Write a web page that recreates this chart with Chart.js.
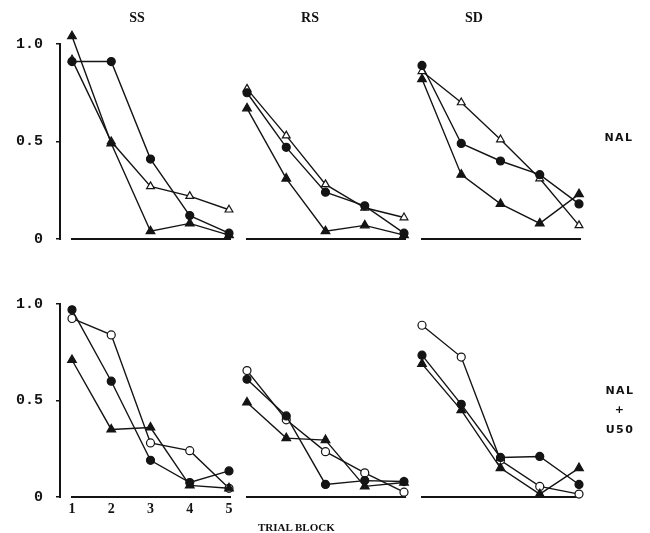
<!DOCTYPE html>
<html><head><meta charset="utf-8">
<script src="https://cdn.jsdelivr.net/npm/chart.js@4.4.0/dist/chart.umd.min.js"></script>
<style>
html,body{margin:0;padding:0;background:#fff;width:650px;height:533px;overflow:hidden}
#wrap{position:relative;width:650px;height:533px}
canvas{position:absolute;left:0;top:0}
.t{position:absolute;color:#111;white-space:nowrap;transform:translate(-50%,-50%);line-height:1}
.title{font-family:"Liberation Serif";font-weight:bold;font-size:14px}
.side{font-family:"DejaVu Sans";font-weight:bold;font-size:11px;letter-spacing:1.5px;text-align:center}
.axt{font-family:"Liberation Serif";font-weight:bold;font-size:11px;transform:translate(0,-50%)}
</style></head><body><div id="wrap">
<canvas id="c0" width="650" height="533"></canvas>
<canvas id="c1" width="650" height="533"></canvas>
<canvas id="c2" width="650" height="533"></canvas>
<canvas id="c3" width="650" height="533"></canvas>
<canvas id="c4" width="650" height="533"></canvas>
<canvas id="c5" width="650" height="533"></canvas>
<div class="t title" style="left:137px;top:18px">SS</div>
<div class="t title" style="left:310px;top:18px">RS</div>
<div class="t title" style="left:474px;top:18px">SD</div>
<div class="t side" style="left:619px;top:137px">NAL</div>
<div class="t side" style="left:620px;top:390px">NAL</div>
<div class="t side" style="left:620px;top:409px">+</div>
<div class="t side" style="left:620px;top:429px">U50</div>
<div class="t axt" style="left:258px;top:527px">TRIAL BLOCK</div>
</div>
<script>
// ---- data ----
const blocks = [1, 2, 3, 4, 5];
const xTickLabels = ['1', '2', '3', '4', '5'];
const yTicks = [0, 0.5, 1];
const yTickLabels = ['0', '0.5', '1.0'];
const panelTitles = ['SS', 'RS', 'SD'];
const rowLabels = ['NAL', 'NAL + U50'];

// NAL row (filled circle, filled triangle, open triangle)
const ssNalCircle  = [0.91, 0.91, 0.41, 0.12, 0.03];
const ssNalTri     = [1.04, 0.49, 0.04, 0.08, 0.02];
const ssNalOpenTri = [0.92, 0.50, 0.27, 0.22, 0.15];

const rsNalCircle  = [0.75, 0.47, 0.24, 0.17, 0.03];
const rsNalTri     = [0.67, 0.31, 0.04, 0.07, 0.02];
const rsNalOpenTri = [0.77, 0.53, 0.28, 0.16, 0.11];

const sdNalCircle  = [0.89, 0.49, 0.40, 0.33, 0.18];
const sdNalTri     = [0.82, 0.33, 0.18, 0.08, 0.23];
const sdNalOpenTri = [0.86, 0.70, 0.51, 0.31, 0.07];

// NAL + U50 row (filled circle, filled triangle, open circle)
const ssUCircle = [0.97, 0.60, 0.19, 0.075, 0.135];
const ssUTri    = [0.71, 0.35, 0.36, 0.06, 0.045];
const ssUOpen   = [0.925, 0.84, 0.28, 0.24, 0.045];

const rsUCircle = [0.61, 0.42, 0.065, 0.085, 0.08];
const rsUTri    = [0.49, 0.305, 0.295, 0.055, 0.075];
const rsUOpen   = [0.655, 0.40, 0.235, 0.125, 0.025];

const sdUCircle = [0.735, 0.48, 0.205, 0.21, 0.065];
const sdUTri    = [0.69, 0.45, 0.15, 0.015, 0.15];
const sdUOpen   = [0.89, 0.725, 0.19, 0.055, 0.015];

// ---- layout (pixel geometry of each panel) ----
const INK = '#141414';
const Y_MAX = 1.08;
const rows = [{y1: 44, y0: 239}, {y1: 304, y0: 497}];
const cols = [{p1: 72, p5: 229, axisX: 60}, {p1: 247, p5: 404}, {p1: 422, p5: 579}];

const panels = [
  {row: 0, col: 0, series: [ssNalCircle, ssNalTri, ssNalOpenTri], open: 'triangle'},
  {row: 0, col: 1, series: [rsNalCircle, rsNalTri, rsNalOpenTri], open: 'triangle'},
  {row: 0, col: 2, series: [sdNalCircle, sdNalTri, sdNalOpenTri], open: 'triangle'},
  {row: 1, col: 0, series: [ssUCircle, ssUTri, ssUOpen], open: 'circle'},
  {row: 1, col: 1, series: [rsUCircle, rsUTri, rsUOpen], open: 'circle'},
  {row: 1, col: 2, series: [sdUCircle, sdUTri, sdUOpen], open: 'circle'},
];

const axisLines = {
  id: 'axisLines',
  beforeDatasetsDraw(chart) {
    const {ctx, scales: {x, y}} = chart;
    const yy = y.getPixelForValue(0);
    ctx.save();
    ctx.strokeStyle = INK;
    ctx.lineWidth = 2;
    ctx.beginPath();
    ctx.moveTo(x.getPixelForValue(blocks[0]) - 1, yy);
    ctx.lineTo(x.getPixelForValue(blocks[blocks.length - 1]) + 2, yy);
    ctx.stroke();
    if (y.options.display) {
      const ax = chart.chartArea.left;
      ctx.beginPath();
      ctx.moveTo(ax, y.getPixelForValue(0) + 1);
      ctx.lineTo(ax, y.getPixelForValue(yTicks[yTicks.length - 1]) - 1);
      ctx.stroke();
    }
    ctx.restore();
  }
};

function toXY(vals) { return blocks.map((b, i) => ({x: b, y: vals[i]})); }

panels.forEach((p, idx) => {
  const r = rows[p.row], c = cols[p.col];
  const hasY = p.col === 0;
  const hasX = p.row === 1 && p.col === 0;
  const unit = (c.p5 - c.p1) / (blocks.length - 1);
  const left = hasY ? c.axisX : c.p1;
  const xmin = blocks[0] - (c.p1 - left) / unit;
  const topPx = r.y0 - (r.y0 - r.y1) * Y_MAX;
  const yAxisW = 45, xAxisH = 25;
  const styles = [
    {pointStyle: 'circle', pointRadius: 4, bg: INK},
    {pointStyle: 'triangle', pointRadius: 5, bg: INK},
    {pointStyle: p.open, pointRadius: p.open === 'circle' ? 4 : 4.5, bg: '#ffffff'},
  ];
  const datasets = p.series.map((vals, k) => ({
    data: toXY(vals),
    borderColor: INK,
    borderWidth: 1.4,
    tension: 0,
    clip: false,
    pointStyle: styles[k].pointStyle,
    pointRadius: styles[k].pointRadius,
    pointBackgroundColor: styles[k].bg,
    pointBorderColor: INK,
    pointBorderWidth: 1.2,
  }));
  const xScale = {
    type: 'linear', min: xmin, max: blocks[blocks.length - 1],
    display: hasX,
    afterBuildTicks: s => { s.ticks = blocks.map(v => ({value: v})); },
    grid: {display: false, drawTicks: false},
    border: {display: false},
    ticks: {
      padding: 4, color: INK,
      font: {family: 'Liberation Serif', weight: 'bold', size: 14},
      maxRotation: 0, autoSkip: false,
      callback: (v) => { const i = blocks.indexOf(v); return i >= 0 ? xTickLabels[i] : ''; }
    }
  };
  if (hasX) xScale.afterFit = s => { s.height = xAxisH; };
  const yScale = {
    type: 'linear', min: 0, max: Y_MAX,
    display: hasY,
    afterBuildTicks: s => { s.ticks = yTicks.map(v => ({value: v})); },
    grid: {display: true, drawOnChartArea: false, drawTicks: true, tickLength: 4, color: INK, lineWidth: 1.5},
    border: {display: false},
    ticks: {
      padding: 13, color: INK,
      font: {family: 'Liberation Mono', weight: 'bold', size: 15},
      callback: (v) => { const i = yTicks.indexOf(v); return i >= 0 ? yTickLabels[i] : ''; }
    }
  };
  if (hasY) yScale.afterFit = s => { s.width = yAxisW; };
  new Chart(document.getElementById('c' + idx), {
    type: 'line',
    data: {datasets},
    plugins: [axisLines],
    options: {
      responsive: false,
      animation: false,
      events: [],
      layout: {padding: {
        left: hasY ? left - yAxisW : left,
        right: 650 - c.p5,
        top: topPx,
        bottom: 533 - r.y0 - (hasX ? xAxisH : 0)
      }},
      plugins: {legend: {display: false}, tooltip: {enabled: false}, title: {display: false}},
      scales: {x: xScale, y: yScale}
    }
  });
});
</script>
</body></html>
